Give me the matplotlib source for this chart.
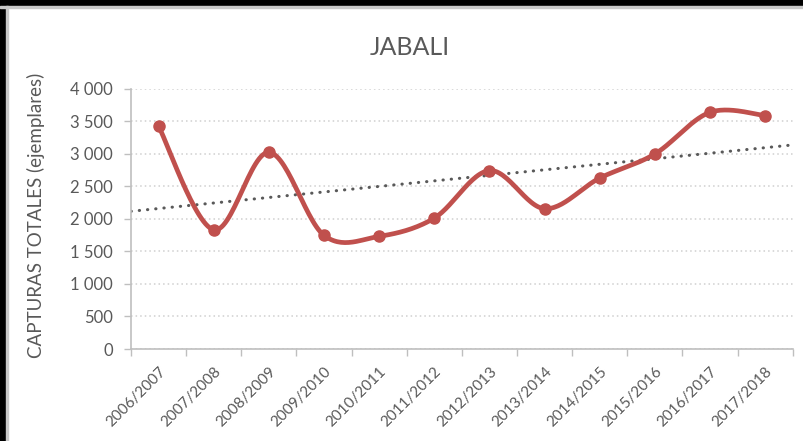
import numpy as np
import matplotlib
matplotlib.use("Agg")
import matplotlib.pyplot as plt
from matplotlib.ticker import FuncFormatter, MultipleLocator, FixedLocator

plt.rcParams['font.family'] = ['Lato', 'DejaVu Sans']

temporadas = ['2006/2007', '2007/2008', '2008/2009', '2009/2010', '2010/2011', '2011/2012',
              '2012/2013', '2013/2014', '2014/2015', '2015/2016', '2016/2017', '2017/2018']
capturas = [3420, 1830, 3020, 1745, 1730, 2010, 2740, 2155, 2625, 2995, 3635, 3585]

red = '#C0504D'
grey = '#595959'


def smooth(x, y, n=30):
    # Excel-like smoothing: cubic Bezier with Catmull-Rom control points
    p = np.column_stack([x, y]).astype(float)
    pts = []
    for i in range(len(p) - 1):
        p0 = p[i - 1] if i > 0 else p[i]
        p3 = p[i + 2] if i + 2 < len(p) else p[i + 1]
        c1 = p[i] + (p[i + 1] - p0) / 6
        c2 = p[i + 1] - (p3 - p[i]) / 6
        t = np.linspace(0, 1, n)[:, None]
        seg = ((1 - t) ** 3) * p[i] + 3 * ((1 - t) ** 2) * t * c1 + 3 * (1 - t) * t ** 2 * c2 + t ** 3 * p[i + 1]
        pts.append(seg if i == 0 else seg[1:])
    pts = np.vstack(pts)
    return pts[:, 0], pts[:, 1]


x = np.arange(len(temporadas))
y = np.array(capturas)

fig = plt.figure(figsize=(8.04, 4.41), dpi=100)
# black frame on top / left like the screenshot
fig.patches.append(plt.Rectangle((0, 1 - 6 / 441), 1, 6 / 441, transform=fig.transFigure,
                                 color='black', zorder=-5))
fig.patches.append(plt.Rectangle((0, 0), 6 / 804, 1, transform=fig.transFigure,
                                 color='black', zorder=-5))
fig.patches.append(plt.Rectangle((0, 1 - 8 / 441), 1, 2 / 441, transform=fig.transFigure,
                                 color='#C8C8C8', zorder=-5))
fig.patches.append(plt.Rectangle((6 / 804, 0), 2 / 804, 1 - 6 / 441, transform=fig.transFigure,
                                 color='#C8C8C8', zorder=-5))

ax = fig.add_axes([0.163, 0.2086, 0.823, 0.5907])

sx, sy = smooth(x, y)
ax.plot(sx, sy, color=red, lw=3.4, solid_capstyle='round', zorder=3)
ax.plot(x, y, 'o', color=red, ms=8, zorder=4)

# linear trendline
m, b = np.polyfit(x, y, 1)
tx = np.array([-0.5, 11.5])
ax.plot(tx, m * tx + b, color=grey, lw=2.2, linestyle=(0, (0.1, 2.6)),
        dash_capstyle='round', zorder=2)

ax.set_xlim(-0.5, len(temporadas) - 0.5)
ax.set_ylim(0, 4000)
ax.yaxis.set_major_locator(MultipleLocator(500))
ax.yaxis.set_major_formatter(FuncFormatter(lambda v, p: f'{int(v):,}'.replace(',', ' ')))
ax.grid(axis='y', color='#CFCFCF', lw=1.1, linestyle=(0, (1, 2)))
ax.set_axisbelow(True)

ax.xaxis.set_major_locator(FixedLocator(x))
ax.set_xticklabels(temporadas, rotation=45, ha='right', rotation_mode='anchor')
ax.xaxis.set_minor_locator(FixedLocator(np.arange(-0.5, len(temporadas), 1)))
ax.tick_params(axis='x', which='major', length=0, pad=11, labelsize=11, labelcolor=grey)
ax.tick_params(axis='x', which='minor', length=5, color='#BFBFBF', width=1)
ax.tick_params(axis='y', length=5, color='#BFBFBF', width=1, labelsize=12, labelcolor=grey, pad=8)

for s in ['top', 'right']:
    ax.spines[s].set_visible(False)
for s in ['left', 'bottom']:
    ax.spines[s].set_color('#BFBFBF')
    ax.spines[s].set_linewidth(1.2)

fig.text(36 / 804, 1 - 215 / 441, 'CAPTURAS TOTALES (ejemplares)', rotation=90,
         ha='center', va='center', fontsize=13.5, color=grey)
fig.text(0.51, 0.893, 'JABALI', ha='center', va='center', fontsize=18, color=grey)

fig.savefig('out.png', dpi=100, facecolor='white')
